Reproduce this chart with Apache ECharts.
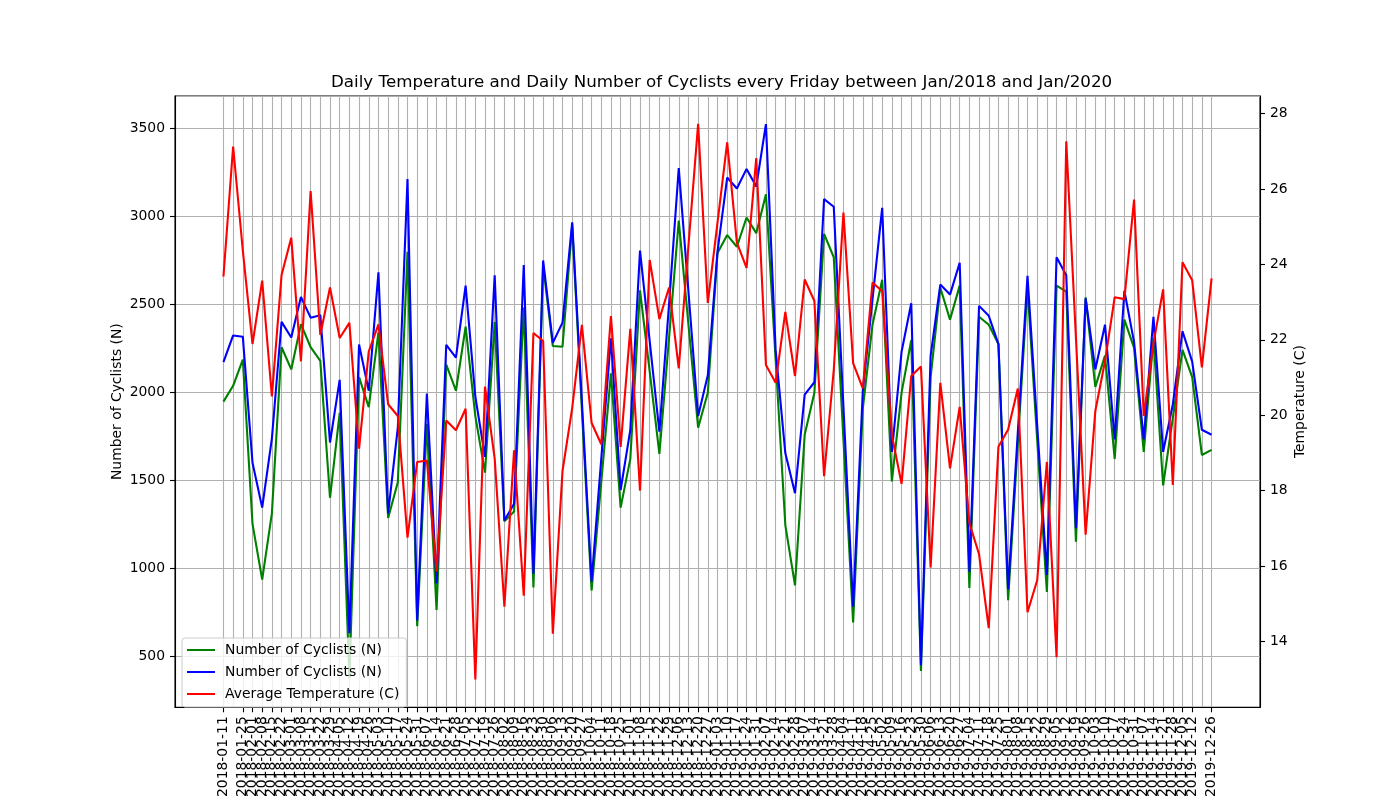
<!DOCTYPE html>
<html lang="en">
<head>
    <meta charset="UTF-8">
    <title>Cyclists and temperature</title>
    <style>
        body { margin: 0; background: #fff; }
    </style>
</head>
<body>
<div id="chart-box" style="height:800px;width:1400px"></div>
<script src="https://cdn.jsdelivr.net/npm/echarts@6/dist/echarts.min.js"></script>
<script>
// weekly dates (x axis)
var dates = [
    '2018-01-11','2018-01-18','2018-01-25','2018-02-01','2018-02-08','2018-02-15','2018-02-22',
    '2018-03-01','2018-03-08','2018-03-15','2018-03-22','2018-03-29','2018-04-05','2018-04-12',
    '2018-04-19','2018-04-26','2018-05-03','2018-05-10','2018-05-17','2018-05-24','2018-05-31',
    '2018-06-07','2018-06-14','2018-06-21','2018-06-28','2018-07-05','2018-07-12','2018-07-19',
    '2018-07-26','2018-08-02','2018-08-09','2018-08-16','2018-08-23','2018-08-30','2018-09-06',
    '2018-09-13','2018-09-20','2018-09-27','2018-10-04','2018-10-11','2018-10-18','2018-10-25',
    '2018-11-01','2018-11-08','2018-11-15','2018-11-22','2018-11-29','2018-12-06','2018-12-13',
    '2018-12-20','2018-12-27','2019-01-03','2019-01-10','2019-01-17','2019-01-24','2019-01-31',
    '2019-02-07','2019-02-14','2019-02-21','2019-02-28','2019-03-07','2019-03-14','2019-03-21',
    '2019-03-28','2019-04-04','2019-04-11','2019-04-18','2019-04-25','2019-05-02','2019-05-09',
    '2019-05-16','2019-05-23','2019-05-30','2019-06-06','2019-06-13','2019-06-20','2019-06-27',
    '2019-07-04','2019-07-11','2019-07-18','2019-07-25','2019-08-01','2019-08-08','2019-08-15',
    '2019-08-22','2019-08-29','2019-09-05','2019-09-12','2019-09-19','2019-09-26','2019-10-03',
    '2019-10-10','2019-10-17','2019-10-24','2019-10-31','2019-11-07','2019-11-14','2019-11-21',
    '2019-11-28','2019-12-05','2019-12-12','2019-12-19','2019-12-26'
];

var cyclistsGreen = [
    1946, 2036, 2185, 1252, 935, 1311, 2255, 2129, 2386, 2255, 2178, 1400, 1882, 375, 2085,
    1915, 2339, 1285, 1488, 2797, 670, 1820, 763, 2156, 2008, 2372, 1864, 1543, 2399, 1267,
    1322, 2480, 891, 2720, 2262, 2258, 2947, 1900, 873, 1488, 2107, 1344, 1621, 2578, 2118,
    1649, 2310, 2974, 2384, 1798, 1997, 2790, 2892, 2826, 2992, 2903, 3124, 2185, 1245, 902,
    1758, 1997, 2899, 2766, 1730, 692, 1908, 2383, 2638, 1493, 1997, 2295, 416, 2085, 2593,
    2412, 2605, 887, 2428, 2383, 2273, 818, 1709, 2594, 1729, 865, 2605, 2571, 1150, 2538,
    2030, 2207, 1621, 2412, 2251, 1661, 2306, 1470, 1853, 2240, 2085, 1643, 1672
];

var cyclistsBlue = [
    2171, 2322, 2315, 1599, 1344, 1736, 2399, 2310, 2540, 2423, 2437, 1714, 2070, 630, 2271,
    2008, 2680, 1311, 1798, 3210, 703, 1992, 913, 2269, 2196, 2605, 1975, 1632, 2664, 1271,
    1366, 2722, 969, 2748, 2280, 2395, 2965, 1946, 924, 1621, 2306, 1444, 1786, 2804, 2290,
    1775, 2500, 3272, 2571, 1864, 2096, 2800, 3219, 3157, 3268, 3168, 3522, 2240, 1654, 1426,
    1986, 2056, 3096, 3053, 1917, 781, 2008, 2527, 3047, 1660, 2229, 2505, 449, 2207, 2611,
    2554, 2735, 980, 2490, 2434, 2273, 880, 1771, 2660, 1811, 962, 2766, 2664, 1227, 2532,
    2129, 2383, 1731, 2576, 2284, 1731, 2428, 1661, 1930, 2346, 2173, 1786, 1758
];

var temperature = [
    23.68, 27.13, 24.37, 21.89, 23.57, 20.5, 23.72, 24.71, 21.43, 25.95, 22.13, 23.39, 22.05,
    22.45, 19.11, 21.69, 22.41, 20.29, 19.98, 16.75, 18.76, 18.8, 15.85, 19.86, 19.6, 20.17,
    12.99, 20.76, 18.85, 14.92, 19.07, 15.21, 22.18, 21.97, 14.2, 18.52, 20.19, 22.4, 19.8,
    19.23, 22.63, 19.16, 22.29, 18.0, 24.12, 22.55, 23.39, 21.24, 24.5, 27.73, 22.98, 25.11,
    27.24, 24.58, 23.91, 26.82, 21.33, 20.86, 22.74, 21.04, 23.6, 23.03, 18.38, 21.2, 25.38,
    21.38, 20.71, 23.52, 23.29, 19.47, 18.18, 21.04, 21.29, 15.96, 20.86, 18.59, 20.22, 17.14,
    16.31, 14.35, 19.16, 19.62, 20.71, 14.77, 15.62, 18.76, 13.58, 27.27, 22.05, 16.83, 20.11,
    21.43, 23.13, 23.08, 25.72, 19.98, 21.9, 23.34, 18.15, 24.06, 23.58, 21.27, 23.63
];

var legendLabels = {
    green: 'Number of Cyclists (N)',
    blue: 'Number of Cyclists (N)',
    temp: 'Average Temperature (C)'
};

// matplotlib-like 5% side margins: empty categories at both ends
var PAD = 5;
var categories = [];
for (var i = 0; i < PAD; i++) categories.push('');
categories = categories.concat(dates);
for (var j = 0; j < PAD; j++) categories.push('');

function pad(arr) {
    var out = [];
    for (var k = 0; k < PAD; k++) out.push(null);
    out = out.concat(arr);
    for (var m = 0; m < PAD; m++) out.push(null);
    return out;
}

function isReal(idx) {
    return idx >= PAD && idx < PAD + dates.length;
}

function plain(v) {
    return String(v);
}

var font = 'DejaVu Sans';

var option = {
    animation: false,
    backgroundColor: '#ffffff',
    textStyle: { fontFamily: font, color: '#000' },
    title: {
        text: 'Daily Temperature and Daily Number of Cyclists every Friday between Jan/2018 and Jan/2020',
        left: 326,
        top: 69,
        textStyle: { fontFamily: font, fontSize: 16.7, fontWeight: 'normal', color: '#000' }
    },
    legend: {
        orient: 'vertical',
        left: 182,
        top: 638,
        padding: [4, 7, 5, 5],
        itemGap: 6,
        itemWidth: 28,
        itemHeight: 2,
        icon: 'rect',
        selectedMode: false,
        backgroundColor: 'rgba(255,255,255,0.8)',
        borderColor: '#cccccc',
        borderWidth: 1,
        borderRadius: 3,
        data: ['green', 'blue', 'temp'],
        formatter: function (name) { return legendLabels[name]; },
        textStyle: { fontFamily: font, fontSize: 13.9, color: '#000', lineHeight: 16, padding: [0, 0, 0, 5] }
    },
    grid: {
        left: 175,
        right: 140,
        top: 96,
        bottom: 88,
        show: true,
        borderColor: '#000',
        borderWidth: 1.1,
        containLabel: false
    },
    xAxis: {
        type: 'category',
        data: categories,
        boundaryGap: false,
        axisLine: { lineStyle: { color: '#000', width: 1.1 } },
        axisTick: { interval: isReal, length: 5, lineStyle: { color: '#000', width: 1.1 } },
        axisLabel: {
            interval: isReal,
            showMinLabel: true,
            showMaxLabel: true,
            hideOverlap: false,
            rotate: 90,
            margin: 9,
            fontFamily: font,
            fontSize: 13.9,
            color: '#000'
        },
        splitLine: { show: true, interval: isReal, lineStyle: { color: '#b0b0b0', width: 1.1 } }
    },
    yAxis: [
        {
            type: 'value',
            position: 'left',
            min: 210,
            max: 3682,
            splitNumber: 7,
            name: 'Number of Cyclists (N)',
            nameLocation: 'middle',
            nameGap: 51,
            nameMoveOverlap: false,
            nameTextStyle: { fontFamily: font, fontSize: 13.9, color: '#000' },
            axisLine: { show: true, lineStyle: { color: '#000', width: 1.1 } },
            axisTick: { show: true, length: 5, lineStyle: { color: '#000', width: 1.1 } },
            axisLabel: { margin: 10, formatter: plain, showMinLabel: false, showMaxLabel: false, fontFamily: font, fontSize: 13.9, color: '#000' },
            splitLine: { show: true, lineStyle: { color: '#b0b0b0', width: 1.1 } }
        },
        {
            type: 'value',
            position: 'right',
            min: 12.25,
            max: 28.47,
            splitNumber: 8,
            name: 'Temperature (C)',
            nameLocation: 'middle',
            nameGap: 33,
            nameMoveOverlap: false,
            nameTextStyle: { fontFamily: font, fontSize: 13.9, color: '#000' },
            axisLine: { show: true, lineStyle: { color: '#000', width: 1.1 } },
            axisTick: { show: true, length: 5, lineStyle: { color: '#000', width: 1.1 } },
            axisLabel: { margin: 10, formatter: plain, showMinLabel: false, showMaxLabel: false, fontFamily: font, fontSize: 13.9, color: '#000' },
            splitLine: { show: false }
        }
    ],
    series: [
        {
            name: 'green',
            type: 'line',
            yAxisIndex: 0,
            data: pad(cyclistsGreen),
            symbol: 'none',
            lineStyle: { color: '#008000', width: 2.1 },
            itemStyle: { color: '#008000' }
        },
        {
            name: 'blue',
            type: 'line',
            yAxisIndex: 0,
            data: pad(cyclistsBlue),
            symbol: 'none',
            lineStyle: { color: '#0000ff', width: 2.1 },
            itemStyle: { color: '#0000ff' }
        },
        {
            name: 'temp',
            type: 'line',
            yAxisIndex: 1,
            data: pad(temperature),
            symbol: 'none',
            lineStyle: { color: '#ff0000', width: 2.1 },
            itemStyle: { color: '#ff0000' }
        }
    ]
};

var chart = echarts.init(document.getElementById('chart-box'));
chart.setOption(option);
</script>
</body>
</html>
